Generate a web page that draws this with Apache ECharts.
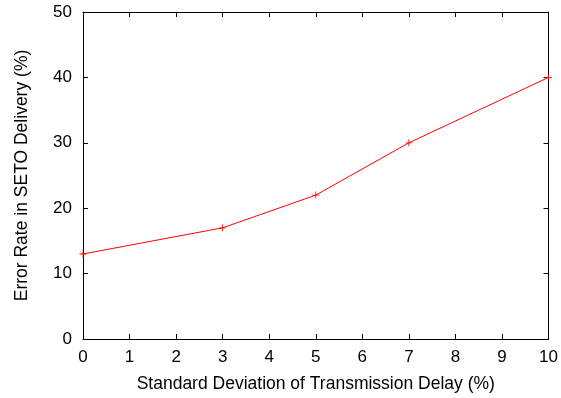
<!DOCTYPE html>
<html>
<head>
<meta charset="utf-8">
<script src="https://cdn.jsdelivr.net/npm/echarts@6/dist/echarts.min.js"></script>
<style>html,body{margin:0;padding:0;background:#fff}#c{width:561px;height:398px}</style>
</head>
<body>
<div id="c"></div>
<script>
var xValues = [0, 3, 5, 7, 10];
var errorRate = [13, 17, 22, 30, 40];
var xTitle = 'Standard Deviation of Transmission Delay (%)';
var yTitle = 'Error Rate in SETO Delivery (%)';

var font = 'Liberation Sans, Arial, Helvetica, sans-serif';
var chart = echarts.init(document.getElementById('c'), null, {renderer: 'canvas'});
var axisLine = {show: true, onZero: false, lineStyle: {color: '#000', width: 1}};
var tick = {show: true, inside: true, length: 5, lineStyle: {color: '#000', width: 1}};
chart.setOption({
  animation: false,
  backgroundColor: '#fff',
  grid: {left: 83, right: 12, top: 12, bottom: 57, containLabel: false},
  xAxis: [{
    type: 'value', min: 0, max: 10, interval: 1,
    name: xTitle, nameLocation: 'middle', nameGap: 36,
    nameTextStyle: {fontFamily: font, fontSize: 17.5, color: '#000'},
    axisLine: axisLine, axisTick: tick, splitLine: {show: false},
    axisLabel: {fontFamily: font, fontSize: 17, color: '#000', margin: 10}
  }, {
    type: 'value', min: 0, max: 10, interval: 1, position: 'top',
    axisLine: axisLine, axisTick: tick, splitLine: {show: false},
    axisLabel: {show: false}
  }],
  yAxis: [{
    type: 'value', min: 0, max: 50, interval: 10,
    name: yTitle, nameLocation: 'middle', nameGap: 52,
    nameTextStyle: {fontFamily: font, fontSize: 17.5, color: '#000'},
    axisLine: axisLine, axisTick: tick, splitLine: {show: false},
    axisLabel: {fontFamily: font, fontSize: 17, color: '#000', margin: 11}
  }, {
    type: 'value', min: 0, max: 50, interval: 10, position: 'right',
    axisLine: axisLine, axisTick: tick, splitLine: {show: false},
    axisLabel: {show: false}
  }],
  series: [{
    type: 'line',
    data: xValues.map(function (x, i) { return [x, errorRate[i]]; }),
    lineStyle: {color: '#ff0000', width: 1},
    itemStyle: {color: '#ff0000'},
    symbol: 'path://M4.4,0H5.6V4.4H10V5.6H5.6V10H4.4V5.6H0V4.4H4.4Z',
    symbolSize: 7,
    clip: false
  }]
});
</script>
</body>
</html>
